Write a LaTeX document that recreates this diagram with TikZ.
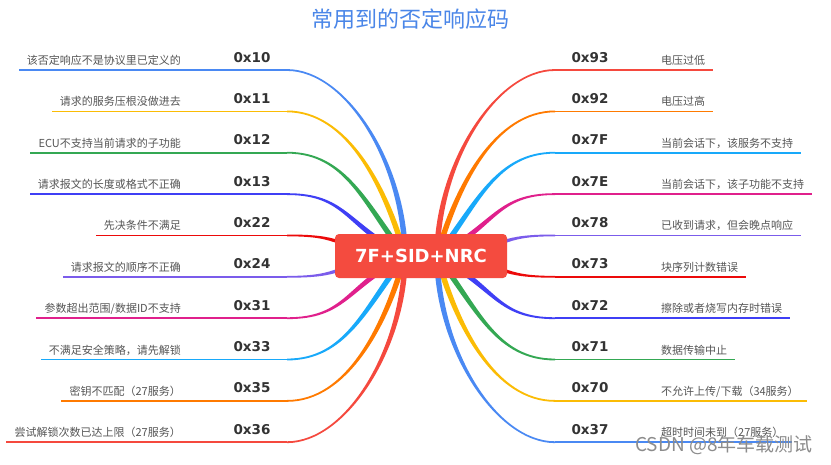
\documentclass[tikz,border=0pt]{standalone}
\usepackage{fontspec}
\setmainfont{Noto Sans CJK SC}
\newfontfamily\codefont{DejaVu Sans}
\usetikzlibrary{calc}

\definecolor{cBlue}{HTML}{4A89F3}
\definecolor{cYellow}{HTML}{FBBC05}
\definecolor{cGreen}{HTML}{34A853}
\definecolor{cViolet}{HTML}{3F3FF5}
\definecolor{cRed}{HTML}{EC0A0A}
\definecolor{cPurple}{HTML}{7B5CEB}
\definecolor{cMagenta}{HTML}{E0208C}
\definecolor{cSky}{HTML}{18A9FA}
\definecolor{cOrange}{HTML}{FF7A00}
\definecolor{cSalmon}{HTML}{F5493E}
\definecolor{cNode}{HTML}{F44B3F}
\definecolor{cTitle}{HTML}{4A86E8}
\definecolor{cText}{HTML}{555555}
\definecolor{cCode}{HTML}{333333}
\definecolor{cMark}{HTML}{8C8C8C}

% #1 side sign (-1 left, 1 right), #2 hub coordinate, #3 id, #4 y, #5 colour, #6 code, #7 text
\newcommand\mkbranch[7]{%
  \pgfmathsetmacro\bdy{#4-256}%
  \pgfmathsetmacro\bs{max(0,0.75-0.004*abs(\bdy))}%
  \pgfmathsetmacro\btx{#1*118*\bs}%
  \pgfmathsetmacro\bty{0.5*\bdy}%
  \pgfmathsetmacro\bL{sqrt((\btx)*(\btx)+(\bty)*(\bty))}%
  \pgfmathsetmacro\bnx{-1*(\bty)/\bL*2.8}%
  \pgfmathsetmacro\bny{(\btx)/\bL*2.8}%
  \pgfmathsetmacro\bmnx{-1*(\bnx)}%
  \pgfmathsetmacro\bmny{-1*(\bny)}%
  \pgfmathsetmacro\bh{#1*0.9}%
  \pgfmathsetmacro\bmh{-1*(\bh)}%
  \ifnum#1<0 \def\banc{base east}\def\bfar{west}\else\def\banc{base west}\def\bfar{east}\fi
  \coordinate (e#3) at (421+#1*134,#4);
  \coordinate (ca#3) at ($(#2)+(\btx,\bty)$);
  \coordinate (cb#3) at (421+#1*75,#4);
  \fill[#5] ([shift={(\bnx,\bny)}]#2) .. controls ([shift={(\bnx,\bny)}]ca#3) and ([shift={(0,\bh)}]cb#3) .. ([shift={(0,\bh)}]e#3)
     -- ([shift={(0,\bmh)}]e#3) .. controls ([shift={(0,\bmh)}]cb#3) and ([shift={(\bmnx,\bmny)}]ca#3) .. ([shift={(\bmnx,\bmny)}]#2) -- cycle;
  \node[desc, anchor=\banc] (t#3) at (421+#1*240,#4-5.5) {#7};
  \draw[hline,#5] (e#3) -- (t#3.\bfar |- e#3) -- ++(#1*8,0);
  \node[code] (k#3) at (421+#1*169,#4-8) {#6};
}

\begin{document}
\begin{tikzpicture}[x=1pt,y=-1pt,
  desc/.style={font=\fontsize{11}{13}\selectfont, text=cText, inner sep=0pt},
  code/.style={font=\codefont\bfseries\fontsize{13.5}{15}\selectfont, text=cCode, inner sep=0pt, anchor=base},
  hline/.style={line width=1.8pt},
  hubbox/.style={rectangle, rounded corners=4pt, fill=cNode, minimum width=172pt, minimum height=44pt, inner sep=0pt, text=white, font=\codefont\bfseries\fontsize{18}{20}\selectfont}
]
\useasboundingbox (0,0) rectangle (831,464);
\fill[white] (0,0) rectangle (831,464);

\coordinate (pL) at (405,256);
\coordinate (pR) at (437,256);

\mkbranch{-1}{pL}{L1}{70}{cBlue}{0x10}{该否定响应不是协议里已定义的}
\mkbranch{-1}{pL}{L2}{111.4}{cYellow}{0x11}{请求的服务压根没做进去}
\mkbranch{-1}{pL}{L3}{152.7}{cGreen}{0x12}{ECU不支持当前请求的子功能}
\mkbranch{-1}{pL}{L4}{194.1}{cViolet}{0x13}{请求报文的长度或格式不正确}
\mkbranch{-1}{pL}{L5}{235.4}{cRed}{0x22}{先决条件不满足}
\mkbranch{-1}{pL}{L6}{276.8}{cPurple}{0x24}{请求报文的顺序不正确}
\mkbranch{-1}{pL}{L7}{318.2}{cMagenta}{0x31}{参数超出范围/数据ID不支持}
\mkbranch{-1}{pL}{L8}{359.5}{cSky}{0x33}{不满足安全策略，请先解锁}
\mkbranch{-1}{pL}{L9}{400.9}{cOrange}{0x35}{密钥不匹配（27服务）}
\mkbranch{-1}{pL}{L10}{442.2}{cSalmon}{0x36}{尝试解锁次数已达上限（27服务）}

\mkbranch{1}{pR}{R1}{70}{cSalmon}{0x93}{电压过低}
\mkbranch{1}{pR}{R2}{111.4}{cOrange}{0x92}{电压过高}
\mkbranch{1}{pR}{R3}{152.7}{cSky}{0x7F}{当前会话下，该服务不支持}
\mkbranch{1}{pR}{R4}{194.1}{cMagenta}{0x7E}{当前会话下，该子功能不支持}
\mkbranch{1}{pR}{R5}{235.4}{cPurple}{0x78}{已收到请求，但会晚点响应}
\mkbranch{1}{pR}{R6}{276.8}{cRed}{0x73}{块序列计数错误}
\mkbranch{1}{pR}{R7}{318.2}{cViolet}{0x72}{擦除或者烧写内存时错误}
\mkbranch{1}{pR}{R8}{359.5}{cGreen}{0x71}{数据传输中止}
\mkbranch{1}{pR}{R9}{400.9}{cYellow}{0x70}{不允许上传/下载（34服务）}
\mkbranch{1}{pR}{R10}{442.2}{cBlue}{0x37}{超时时间未到（27服务）}

\node[hubbox] (hub) at (421,256) {7F+SID+NRC};

\node[font=\fontsize{22}{24}\selectfont, text=cTitle, inner sep=0pt] (title) at (410,19) {常用到的否定响应码};

\node[font=\fontsize{19}{21}\selectfont, text=cMark, inner sep=0pt] (wm) at (724,445) {CSDN @8年车载测试};
\end{tikzpicture}
\end{document}
